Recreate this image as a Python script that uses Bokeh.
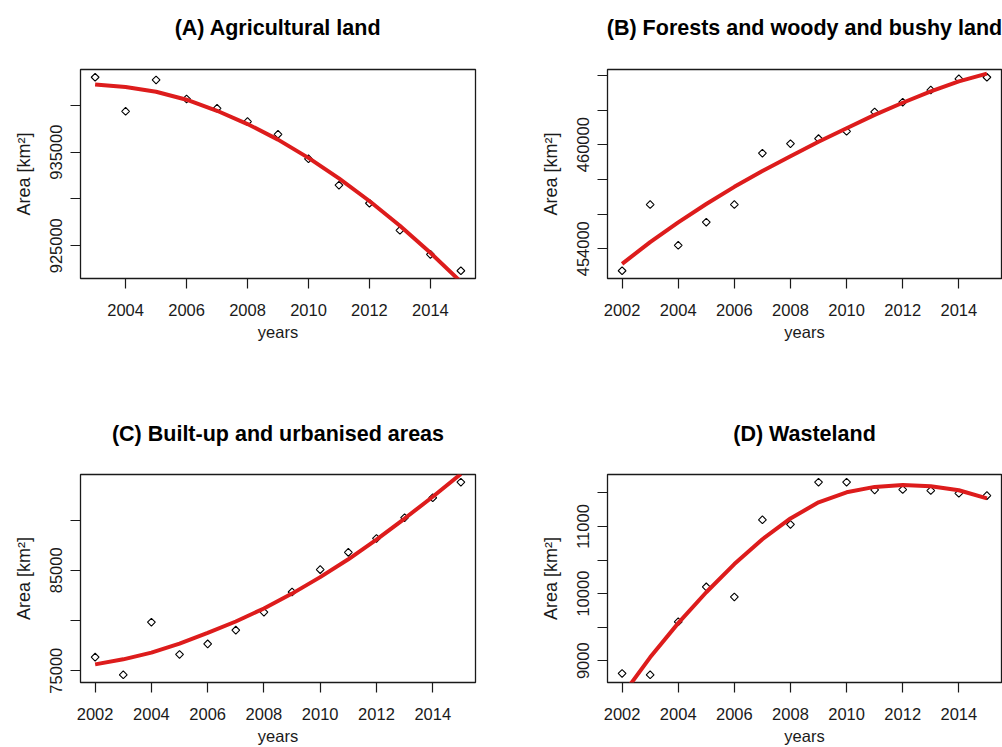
import math

from bokeh.plotting import figure
from bokeh.layouts import column, row
from bokeh.models import FixedTicker, Range1d, LinearAxis
from bokeh.embed import file_html
from bokeh.resources import INLINE

FONT = "Liberation Sans"
LINE_RED = "#dd1c1c"

# ---- (A) Agricultural land, 2003-2015 -------------------------------------
years_a = [2003, 2004, 2005, 2006, 2007, 2008, 2009, 2010, 2011, 2012, 2013, 2014, 2015]
agri_area = [943000, 939360, 942710, 940680, 939680, 938260, 936900,
             934290, 931470, 929540, 926650, 924080, 922330]
agri_trend = [942220, 941960, 941450, 940600, 939420, 938000, 936340,
              934390, 932200, 929780, 927140, 924250, 921150]

# ---- 2002-2015 series -------------------------------------------------------
years = [2002, 2003, 2004, 2005, 2006, 2007, 2008, 2009, 2010, 2011, 2012, 2013, 2014, 2015]

# (B) Forests and woody and bushy land
forest_area = [452730, 456550, 454200, 455530, 456550, 459510, 460060,
               460350, 460770, 461890, 462450, 463150, 463800, 463890]
forest_trend = [453130, 454380, 455520, 456580, 457570, 458480, 459330,
                460170, 460950, 461720, 462420, 463070, 463650, 464100]

# (C) Built-up and urbanised areas
urban_area = [76350, 74590, 79830, 76620, 77670, 79040, 80830,
              82840, 85070, 86790, 88180, 90240, 92230, 93780]
urban_trend = [75630, 76130, 76800, 77700, 78760, 79900, 81200,
               82680, 84320, 86100, 88060, 90160, 92330, 94600]

# (D) Wasteland
waste_area = [8810, 8790, 9580, 10100, 9950, 11100, 11030,
              11660, 11660, 11545, 11550, 11535, 11495, 11460]
waste_trend = [8480, 9050, 9560, 10020, 10440, 10810, 11120,
               11360, 11510, 11590, 11620, 11600, 11540, 11420]

# ---- axis ticks and the tick labels that are printed ------------------------
xticks_a = [2004, 2006, 2008, 2010, 2012, 2014]
xticks = [2002, 2004, 2006, 2008, 2010, 2012, 2014]

yticks_a = [925000, 930000, 935000, 940000]
ylabels_a = ["925000", "935000"]
yticks_b = [454000, 456000, 458000, 460000, 462000, 464000]
ylabels_b = ["454000", "460000"]
yticks_c = [75000, 80000, 85000, 90000]
ylabels_c = ["75000", "85000"]
yticks_d = [9000, 9500, 10000, 10500, 11000, 11500]
ylabels_d = ["9000", "10000", "11000"]

titles = ["(A) Agricultural land",
          "(B) Forests and woody and bushy land",
          "(C) Built-up and urbanised areas",
          "(D) Wasteland"]
x_title = "years"
y_title = "Area [km\u00b2]"


def padded(values, frac=0.04):
    lo, hi = min(values), max(values)
    pad = (hi - lo) * frac
    return lo - pad, hi + pad


def panel(title, xs, obs, trend, xt, yt, ylab, width, height, borders, title_gap):
    left, right, top, bottom = borders
    x0, x1 = padded(xs)
    y0, y1 = padded(obs)
    p = figure(width=width, height=height,
               output_backend="svg", toolbar_location=None,
               x_range=Range1d(x0, x1), y_range=Range1d(y0, y1),
               min_border_left=left, min_border_right=right,
               min_border_top=top, min_border_bottom=bottom)
    p.background_fill_color = "white"
    p.border_fill_color = "white"
    p.outline_line_color = "#1a1a1a"
    p.outline_line_width = 1.3
    p.grid.visible = False

    xax = p.below[0]
    yax = p.left[0]

    for ax in (xax, yax):
        ax.axis_line_color = None
        ax.major_tick_line_color = "#1a1a1a"
        ax.major_tick_line_width = 1.2
        ax.major_tick_out = 10
        ax.major_tick_in = 0
        ax.minor_tick_out = 0
        ax.minor_tick_in = 0
        ax.major_label_text_font = FONT
        ax.major_label_text_font_size = "16.5px"
        ax.major_label_text_font_style = "normal"
        ax.major_label_text_color = "#1a1a1a"
        ax.axis_label_text_font = FONT
        ax.axis_label_text_font_style = "normal"
        ax.axis_label_text_color = "#1a1a1a"

    xax.ticker = FixedTicker(ticks=xt)
    xax.major_label_overrides = {t: str(t) for t in xt}
    xax.major_label_standoff = 15
    xax.axis_label = x_title
    xax.axis_label_text_font_size = "16.5px"
    xax.axis_label_standoff = 4

    yax.ticker = FixedTicker(ticks=yt)
    yax.major_label_overrides = {t: (str(t) if str(t) in ylab else "") for t in yt}
    yax.major_label_orientation = "vertical"
    yax.major_label_standoff = 8
    yax.axis_label = y_title
    yax.axis_label_text_font_size = "18px"
    yax.axis_label_standoff = 14

    # panel heading: the label of a bare axis on top, lifted clear of the box
    heading = LinearAxis(ticker=FixedTicker(ticks=[]), axis_label=title,
                         axis_line_color=None, major_tick_line_color=None,
                         minor_tick_line_color=None,
                         major_tick_out=0, major_tick_in=0,
                         minor_tick_out=0, minor_tick_in=0,
                         major_label_standoff=0,
                         axis_label_standoff=title_gap,
                         axis_label_text_font=FONT,
                         axis_label_text_font_size="21.5px",
                         axis_label_text_font_style="bold",
                         axis_label_text_color="black")
    p.add_layout(heading, "above")

    p.scatter(xs, obs, marker="square", size=5.5, angle=math.pi / 4,
              fill_color=None, line_color="black", line_width=1.1)
    p.line(xs, trend, line_color=LINE_RED, line_width=4)
    return p


pa = panel(titles[0], years_a, agri_area, agri_trend, xticks_a, yticks_a, ylabels_a,
           501, 400, (80, 26, 69, 122), 30)
pb = panel(titles[1], years, forest_area, forest_trend, xticks, yticks_b, ylabels_b,
           501, 400, (106, 1, 69, 122), 30)
pc = panel(titles[2], years, urban_area, urban_trend, xticks, yticks_c, ylabels_c,
           501, 347, (80, 26, 74, 64), 29)
pd = panel(titles[3], years, waste_area, waste_trend, xticks, yticks_d, ylabels_d,
           501, 347, (106, 1, 74, 64), 29)

layout = column(row(pa, pb), row(pc, pd))

with open("out.html", "w") as f:
    f.write(file_html(layout, INLINE))
